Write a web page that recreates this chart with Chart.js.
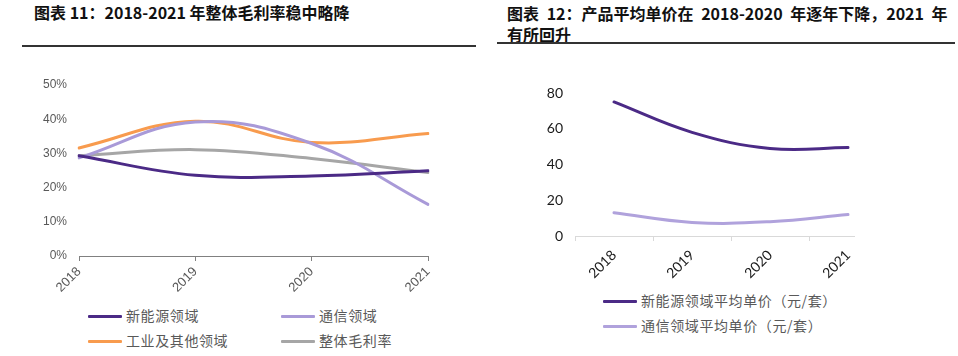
<!DOCTYPE html>
<html><head><meta charset="utf-8">
<script src="https://cdn.jsdelivr.net/npm/chart.js@4/dist/chart.umd.min.js"></script>
<style>
body{margin:0;width:958px;height:356px;background:#fff;position:relative;overflow:hidden;font-family:"Noto Sans CJK SC","Noto Sans",sans-serif}
.title{position:absolute;font-weight:bold;font-size:16px;color:#111;white-space:nowrap;line-height:20px}
.rule{position:absolute;height:2px;background:#333}
.leg{position:absolute;font-size:14px;color:#595959;white-space:nowrap;letter-spacing:0.6px;line-height:18px}
.leg span.sw{display:inline-block;width:34px;height:3px;vertical-align:middle;margin-right:4px;position:relative;top:-1px;border-radius:1px}
canvas{position:absolute}
</style></head>
<body>
<div class="title" style="left:34px;top:2px">图表 11：2018-2021 年整体毛利率稳中略降</div>
<div class="rule" style="left:22px;top:45px;width:454px"></div>
<div class="title" style="left:507px;top:3px;word-spacing:4px">图表 12：产品平均单价在 2018-2020 年逐年下降，2021 年</div>
<div class="title" style="left:507px;top:24px">有所回升</div>
<div class="rule" style="left:497px;top:42px;width:458px"></div>

<canvas id="c1" width="470" height="240" style="left:0;top:60px"></canvas>
<div id="wrap2" style="position:absolute;left:490px;top:60px;width:365px;height:220px;overflow:hidden">
<canvas id="c2" width="410" height="220" style="left:0;top:0"></canvas>
</div>
<div id="leg1"></div>
<div id="leg2"></div>

<script>
// ---- data ----
const years = ['2018', '2019', '2020', '2021'];

const marginSeriesNames = ['新能源领域', '通信领域', '工业及其他领域', '整体毛利率'];
const newEnergyMargin = [29.3, 23.6, 23.4, 24.9];
const telecomMargin = [28.7, 39.2, 32.9, 15.1];
const industrialMargin = [31.6, 39.4, 33.2, 35.8];
const overallMargin = [29.3, 31.1, 28.5, 24.4];

const priceSeriesNames = ['新能源领域平均单价（元/套）', '通信领域平均单价（元/套）'];
const newEnergyPrice = [75, 58, 49, 49.5];
const telecomPrice = [13, 7.6, 8, 12];

// ---- styles ----
const marginColors = ['#4B2A86', '#A99AD8', '#F89B4E', '#A6A6A6'];
const priceColors = ['#4B2A86', '#B0A2DC'];

const marginData = [newEnergyMargin, telecomMargin, industrialMargin, overallMargin];
const priceData = [newEnergyPrice, telecomPrice];

const common = {
  animation: false, responsive: false, maintainAspectRatio: false,
  plugins: { legend: { display: false }, tooltip: { enabled: false } },
  elements: { point: { radius: 0 }, line: { tension: 0.4, borderWidth: 3, borderCapStyle: 'round' } }
};

new Chart(document.getElementById('c1'), {
  type: 'line',
  data: {
    labels: years,
    datasets: marginSeriesNames.map((n, i) => ({
      label: n, data: marginData[i], borderColor: marginColors[i], backgroundColor: marginColors[i], fill: false
    }))
  },
  options: Object.assign({}, common, {
    layout: { padding: { left: 0, right: 42, top: 25, bottom: 0 } },
    scales: {
      x: {
        offset: false,
        grid: { display: true, drawOnChartArea: false, drawTicks: true, tickLength: 5, color: '#808080' },
        border: { display: true, color: '#808080' },
        ticks: { minRotation: 45, maxRotation: 45, autoSkip: false, color: '#595959', font: { size: 13, family: 'Liberation Sans' }, padding: 3 },
        afterFit(s) { s.height = 44; }
      },
      y: {
        min: 0, max: 50,
        ticks: { stepSize: 10, callback: v => v + '%', color: '#595959', font: { size: 12, family: 'Liberation Sans' }, padding: 12 },
        grid: { display: false, drawTicks: false },
        border: { display: false },
        afterFit(s) { s.width = 79; }
      }
    }
  })
});

new Chart(document.getElementById('c2'), {
  type: 'line',
  data: {
    labels: years,
    datasets: priceSeriesNames.map((n, i) => ({
      label: n, data: priceData[i], borderColor: priceColors[i], backgroundColor: priceColors[i], fill: false
    }))
  },
  options: Object.assign({}, common, {
    layout: { padding: { left: 0, right: 13, top: 33, bottom: 0 } },
    scales: {
      x: {
        offset: true,
        grid: { display: true, offset: true, drawOnChartArea: false, drawTicks: true, tickLength: 5, color: '#D9D9D9' },
        border: { display: true, color: '#D9D9D9' },
        ticks: { minRotation: 45, maxRotation: 45, autoSkip: false, color: '#1a1a1a', font: { size: 14, family: 'Lato' }, padding: 6 },
        afterFit(s) { s.height = 44; }
      },
      y: {
        min: 0, max: 80,
        ticks: { stepSize: 20, color: '#1a1a1a', font: { size: 14, family: 'Lato' }, padding: 12 },
        grid: { display: false, drawTicks: false },
        border: { display: false },
        afterFit(s) { s.width = 85; }
      }
    }
  })
});

// ---- legends ----
function legendItem(parent, name, color, x, y) {
  const d = document.createElement('div');
  d.className = 'leg';
  d.style.left = x + 'px';
  d.style.top = (y - 9) + 'px';
  d.innerHTML = '<span class="sw" style="background:' + color + '"></span>' + name;
  parent.appendChild(d);
}
const leg1 = document.getElementById('leg1');
const leg1Pos = [[88, 315], [281, 315], [88, 340], [281, 340]];
marginSeriesNames.forEach((n, i) => legendItem(leg1, n, marginColors[i], leg1Pos[i][0], leg1Pos[i][1]));
const leg2 = document.getElementById('leg2');
const leg2Pos = [[603, 300], [603, 325]];
priceSeriesNames.forEach((n, i) => legendItem(leg2, n, priceColors[i], leg2Pos[i][0], leg2Pos[i][1]));
</script>
</body></html>
